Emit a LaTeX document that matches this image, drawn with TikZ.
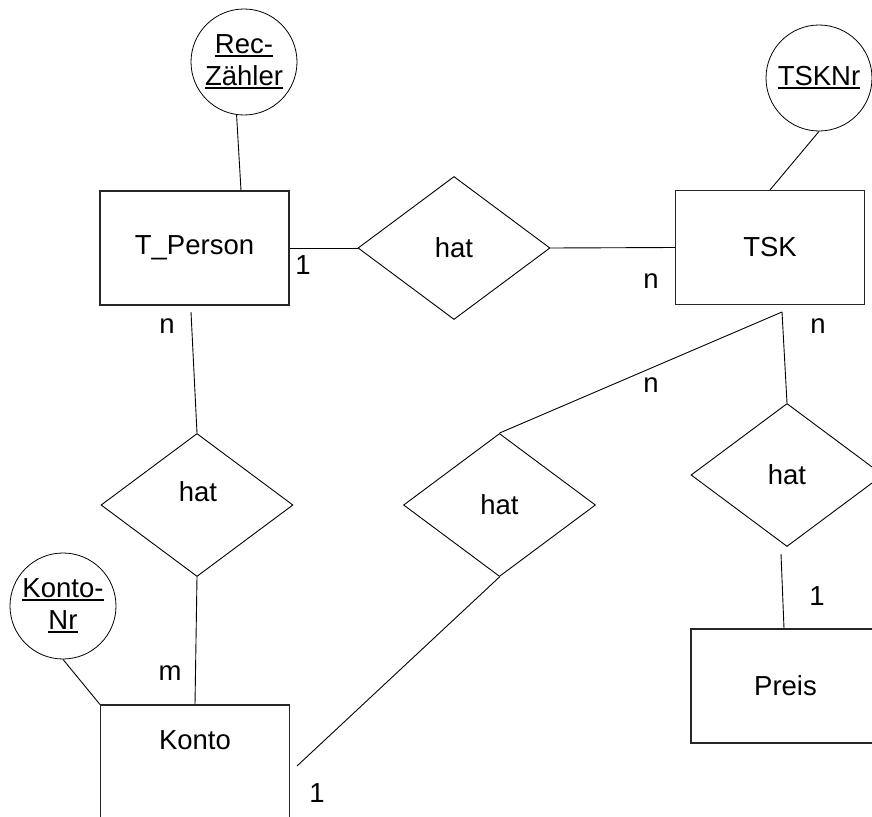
\documentclass[tikz,border=0pt]{standalone}
\usepackage{fontspec}
\setmainfont{Liberation Sans}
\usetikzlibrary{shapes.geometric,calc}
\newcommand\ulx[1]{\vtop{\hbox{#1}\kern1.5pt\hrule height 2pt}}
\begin{document}
\begin{tikzpicture}[x=1pt,y=-1pt,
 every node/.style={font=\fontsize{27.5}{32}\selectfont},
 entity/.style={draw=black!85, line width=1.1pt, minimum width=189pt, minimum height=114pt, inner sep=0pt},
 rel/.style={draw, diamond, line width=0.9pt, minimum width=192pt, minimum height=143pt, inner sep=0pt, shape aspect=1.34},
 attr/.style={draw, circle, line width=0.8pt, minimum size=106pt, inner sep=0pt, align=center},
 conn/.style={line width=0.9pt},
 card/.style={inner sep=0pt}]
\useasboundingbox (0,0) rectangle (872,816);
\clip (0,0) rectangle (872,816);
% attributes
\node[attr] (rec) at (244,62) {\ulx{Rec-}\\\ulx{Zähler}};
\node[attr] (tsknr) at (819,78) {\ulx{TSKNr}};
\node[attr] (knr) at (63,606) {\ulx{Konto-}\\\ulx{Nr}};
% entities
\node[entity] (tp) at (194.5,248) {T\_Person};
\node[entity] (tsk) at (770,247.5) {TSK};
\node[entity] (preis) at (785.5,686) {Preis};
\node[entity] (konto) at (195,762) {};
\node (kontotxt) at (195,740) {Konto};
% relationships
\node[rel] (r1) at (454,248) {hat};
\node[rel] (r2) at (197,505) {};
\node (r2t) at (198,492) {hat};
\node[rel] (r3) at (499.5,505) {hat};
\node[rel] (r4) at (787,475) {hat};
% free ends
\coordinate (tpb) at (191,312);
\coordinate (tskb) at (782,312);
\coordinate (r4b) at (781,554);
\coordinate (kontoe) at (297,766);
% connectors
\draw[conn] (rec.262) -- ([xshift=46.5pt]tp.north);
\draw[conn] (tsknr.south) -- (tsk.north);
\draw[conn] (knr.south) -- (konto.north west);
\draw[conn] (tp.east) -- (r1.west);
\draw[conn] (r1.east) -- (tsk.west);
\draw[conn] (tpb) -- (r2.north);
\draw[conn] (r2.south) -- (konto.north);
\draw[conn] (tskb) -- (r3.north);
\draw[conn] (tskb) -- (r4.north);
\draw[conn] (r4b) -- ([xshift=-1.5pt]preis.north);
\draw[conn] (r3.south) -- (kontoe);
% cardinalities
\node[card] (c1) at (303,265) {1};
\node[card] (c2) at (651,281) {n};
\node[card] (c3) at (818,326) {n};
\node[card] (c4) at (651,385) {n};
\node[card] (c5) at (817,596) {1};
\node[card] (c6) at (167,326) {n};
\node[card] (c7) at (170,673) {m};
\node[card] (c8) at (317,793) {1};
\end{tikzpicture}
\end{document}
